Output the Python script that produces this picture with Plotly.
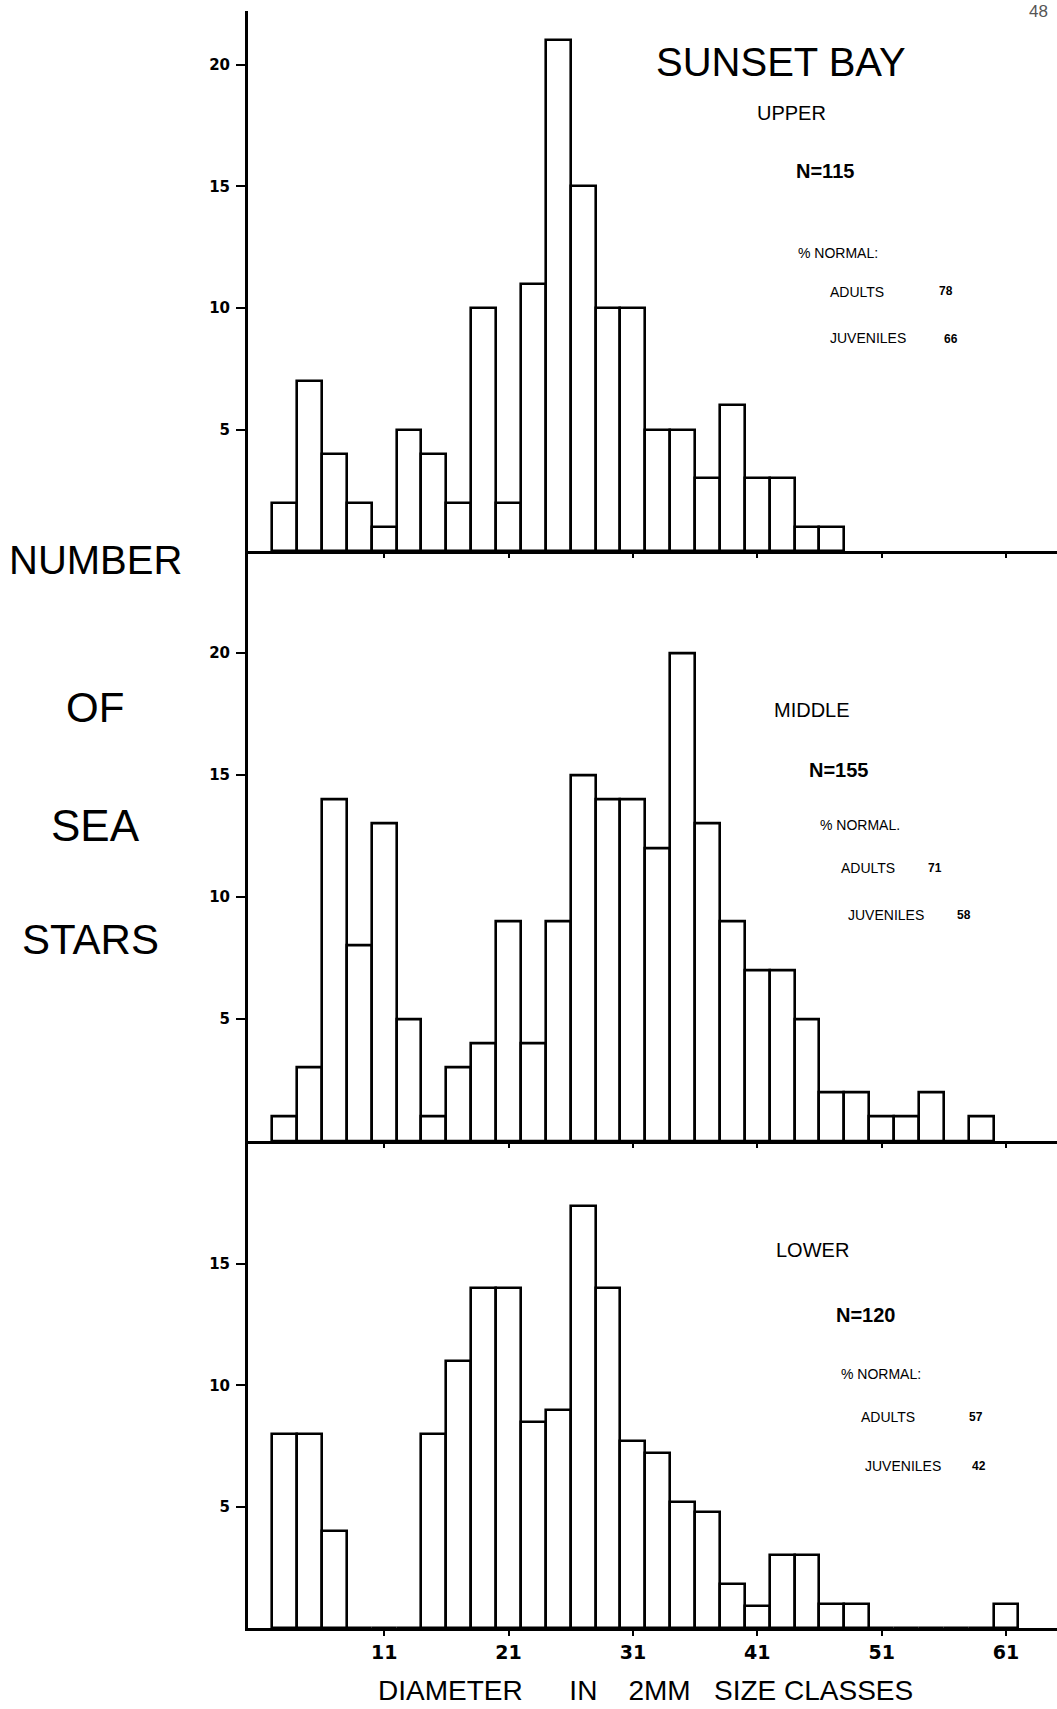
import plotly.graph_objects as go

# ---- data (diameter class centres, 2 mm classes) ----
upper_x = [3, 5, 7, 9, 11, 13, 15, 17, 19, 21, 23, 25, 27, 29, 31, 33, 35, 37, 39, 41, 43, 45, 47]
upper_n = [2, 7, 4, 2, 1, 5, 4, 2, 10, 2, 11, 21, 15, 10, 10, 5, 5, 3, 6, 3, 3, 1, 1]

middle_x = [3, 5, 7, 9, 11, 13, 15, 17, 19, 21, 23, 25, 27, 29, 31, 33, 35, 37, 39, 41,
            43, 45, 47, 49, 51, 53, 55, 57, 59]
middle_n = [1, 3, 14, 8, 13, 5, 1, 3, 4, 9, 4, 9, 15, 14, 14, 12, 20, 13, 9, 7,
            7, 5, 2, 2, 1, 1, 2, 0, 1]

lower_x = [3, 5, 7, 9, 11, 13, 15, 17, 19, 21, 23, 25, 27, 29, 31, 33, 35, 37, 39, 41,
           43, 45, 47, 49, 51, 53, 55, 57, 59, 61]
lower_n = [8, 8, 4, 0, 0, 0, 8, 11, 14, 14, 8.5, 9, 17.4, 14, 7.7, 7.2, 5.2, 4.8, 1.8, 0.9,
           3, 3, 1, 1, 0, 0, 0, 0, 0, 1]

x_ticks = [11, 21, 31, 41, 51, 61]
x_tick_labels = ["11", "21", "31", "41", "51", "61"]
y_ticks_upper = [5, 10, 15, 20]
y_ticks_middle = [5, 10, 15, 20]
y_ticks_lower = [5, 10, 15]

panels = [
    ("UPPER", "N=115", "% NORMAL:", "78", "66"),
    ("MIDDLE", "N=155", "% NORMAL.", "71", "58"),
    ("LOWER", "N=120", "% NORMAL:", "57", "42"),
]

# ---- layout geometry ----
W, H = 1057, 1709
ML, MR, MT, MB = 248, 0, 11, 81
PW, PH = W - ML - MR, H - MT - MB


def px(x):
    return (x - ML) / PW


def py(y):
    return (H - MB - y) / PH


fig = go.Figure()
series = [(upper_x, upper_n, "x", "y"), (middle_x, middle_n, "x2", "y2"), (lower_x, lower_n, "x3", "y3")]
for xs, ns, xa, ya in series:
    fig.add_trace(go.Bar(
        x=xs, y=ns, width=[2] * len(xs), xaxis=xa, yaxis=ya,
        marker=dict(color="white", line=dict(color="black", width=2.6)),
        showlegend=False,
    ))

xr = [0.05, 65.1]
tickfont = dict(family="DejaVu Sans", size=15, color="black", weight="bold")

def xaxis(anchor, labels):
    return dict(
        domain=[0, 1], range=xr, anchor=anchor, showline=True, linecolor="black", linewidth=2.5,
        showgrid=False, zeroline=False, ticks="outside", ticklen=5 if labels else 4,
        tickwidth=1.5, tickcolor="black", tickvals=x_ticks, ticktext=x_tick_labels,
        showticklabels=labels, tickfont=dict(family="DejaVu Sans", size=19, color="black", weight="bold"),
        fixedrange=True,
    )

def yaxis(anchor, dom, rng, tv):
    return dict(
        domain=dom, range=rng, anchor=anchor, showline=True, linecolor="black", linewidth=3,
        showgrid=False, zeroline=False, ticks="outside", ticklen=9, tickwidth=2,
        tickcolor="black", tickvals=tv, ticktext=[str(v) for v in tv], tickfont=tickfont,
        ticklabelstandoff=3, fixedrange=True,
    )

d1 = [py(551.4), 1.0]
d2 = [py(1141), py(551.4)]
d3 = [0.0, py(1141)]

fig.update_layout(
    width=W, height=H, margin=dict(l=ML, r=MR, t=MT, b=MB),
    paper_bgcolor="white", plot_bgcolor="white", bargap=0,
    xaxis=xaxis("y", False), xaxis2=xaxis("y2", False), xaxis3=xaxis("y3", True),
    yaxis=yaxis("x", d1, [0, 22.2], y_ticks_upper),
    yaxis2=yaxis("x2", d2, [0, 24.16], y_ticks_middle),
    yaxis3=yaxis("x3", d3, [0, 20.08], y_ticks_lower),
)

ann = []

def text(t, x, y, size, family="Liberation Sans", weight="normal", color="black"):
    ann.append(dict(text=t, x=px(x), y=py(y), xref="paper", yref="paper", showarrow=False,
                    xanchor="center", yanchor="middle",
                    font=dict(family=family, size=size, color=color, weight=weight)))

# page number and title
text("48", 1038, 11, 17, color="#555")
text("SUNSET BAY", 781, 62, 40)

# per-panel annotations: (label, N, %normal, adults, juveniles) positions in px
pos = [
    dict(lab=(791, 113), n=(825, 171), pn=(838, 253), ad=(857, 292), adv=(946, 291), ju=(868, 338), juv=(951, 339)),
    dict(lab=(812, 710), n=(839, 770), pn=(860, 825), ad=(868, 868), adv=(935, 868), ju=(886, 915), juv=(964, 915)),
    dict(lab=(812, 1250), n=(866, 1315), pn=(881, 1374), ad=(888, 1417), adv=(976, 1417), ju=(903, 1466), juv=(979, 1466)),
]
for (lab, n, pn, adv, juv), p in zip(panels, pos):
    text(lab, *p["lab"], 20)
    text(n, *p["n"], 20, weight="bold")
    text(pn, *p["pn"], 14)
    text("ADULTS", *p["ad"], 14)
    text(adv, *p["adv"], 12, weight="bold")
    text("JUVENILES", *p["ju"], 14)
    text(juv, *p["juv"], 12, weight="bold")

# y-axis title, stacked words
text("NUMBER", 95, 560, 40)
text("OF", 95, 708, 42)
text("SEA", 95, 825, 44)
text("STARS", 90, 939, 42)

# x-axis title
nb = "\u00a0"
text("DIAMETER" + nb * 6 + "IN" + nb * 4 + "2MM" + nb * 3 + "SIZE" + nb + "CLASSES", 645, 1691, 28)

fig.update_layout(annotations=ann)
fig.write_html("out.html")
